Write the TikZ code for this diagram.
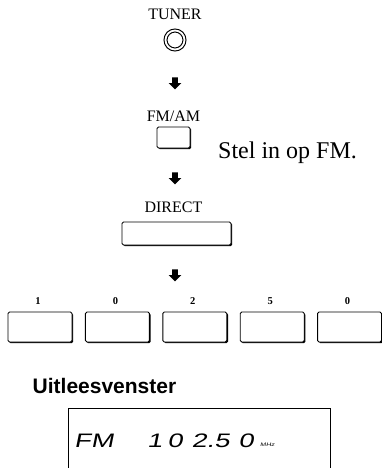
\documentclass[tikz,border=0pt]{standalone}
\usepackage{fontspec}
\setmainfont{Liberation Serif}
\newfontfamily\headfont{Liberation Sans}
\newfontfamily\lcdfont[FakeSlant=0.2,FakeStretch=1.4]{Liberation Sans}
\usetikzlibrary{shapes.arrows,shadows,positioning}

\begin{document}
\begin{tikzpicture}[
    x=1pt, y=-1pt,
    keylabel/.style={anchor=base, inner sep=0pt, font=\fontsize{16}{18}\selectfont},
    numlabel/.style={inner sep=0pt, font=\fontsize{10.5}{12}\selectfont\bfseries},
    key/.style={rectangle, rounded corners=1.5pt, draw, line width=0.9pt, fill=white, inner sep=0pt,
      drop shadow={shadow xshift=1.2pt, shadow yshift=-1.2pt, fill=black, opacity=1}},
    knob/.style={circle, draw, line width=1.1pt, double=white, double distance=1.8pt, minimum size=19pt, inner sep=0pt},
    downarrow/.style={single arrow, fill=black, shape border rotate=270, minimum height=12pt,
      single arrow head extend=3.5pt, single arrow head indent=0pt, inner sep=2.6pt},
    lcd/.style={anchor=base west, inner sep=0pt, font=\lcdfont\fontsize{19.5}{20}\selectfont}
  ]
    \useasboundingbox (0,0) rectangle (382,468);
    \node[keylabel] (tunerlbl) at (175,20) {TUNER};
    \node[knob] (tuner) at (175,40) {};
    \node[downarrow] (arr1) at (175,82) {};
    \node[key, minimum width=33pt, minimum height=21pt] (fmam) at (173.5,137.5) {};
    \node[keylabel, above=5pt of fmam] (fmamlbl) {FM/AM};
    \node[anchor=base west, inner sep=0pt, font=\fontsize{24}{28}\selectfont] (hint) at (218,158) {Stel in op FM.};
    \node[downarrow] (arr2) at (175,177) {};
    \node[key, minimum width=109pt, minimum height=23pt] (direct) at (176.5,233.5) {};
    \node[keylabel, above=9pt of direct, xshift=-3pt] (directlbl) {DIRECT};
    \node[downarrow] (arr3) at (175,274) {};
    \foreach \d [count=\i] in {1,0,2,5,0} {
      \node[key, minimum width=64pt, minimum height=30pt] (k\i) at ({40+77.4*(\i-1)},327) {};
      \node[numlabel, above=7pt of k\i, xshift=-2pt] (n\i) {\d};
    }
    \node[anchor=base west, inner sep=0pt, font=\headfont\bfseries\fontsize{21}{24}\selectfont] (display) at (32.5,393) {Uitleesvenster};
    \draw[line width=0.8pt] (68,470) |- (330,408) -- (330,470);
    \node[lcd] (band) at (74,447) {FM};
    \node[lcd] (freq) at (147,447) {1\hspace{5pt}0\hspace{9pt}2.5\hspace{9pt}0};
    \node[anchor=base west, inner sep=0pt, font=\lcdfont\fontsize{5}{6}\selectfont] (unit) at (260,446) {MHz};
\end{tikzpicture}
\end{document}
